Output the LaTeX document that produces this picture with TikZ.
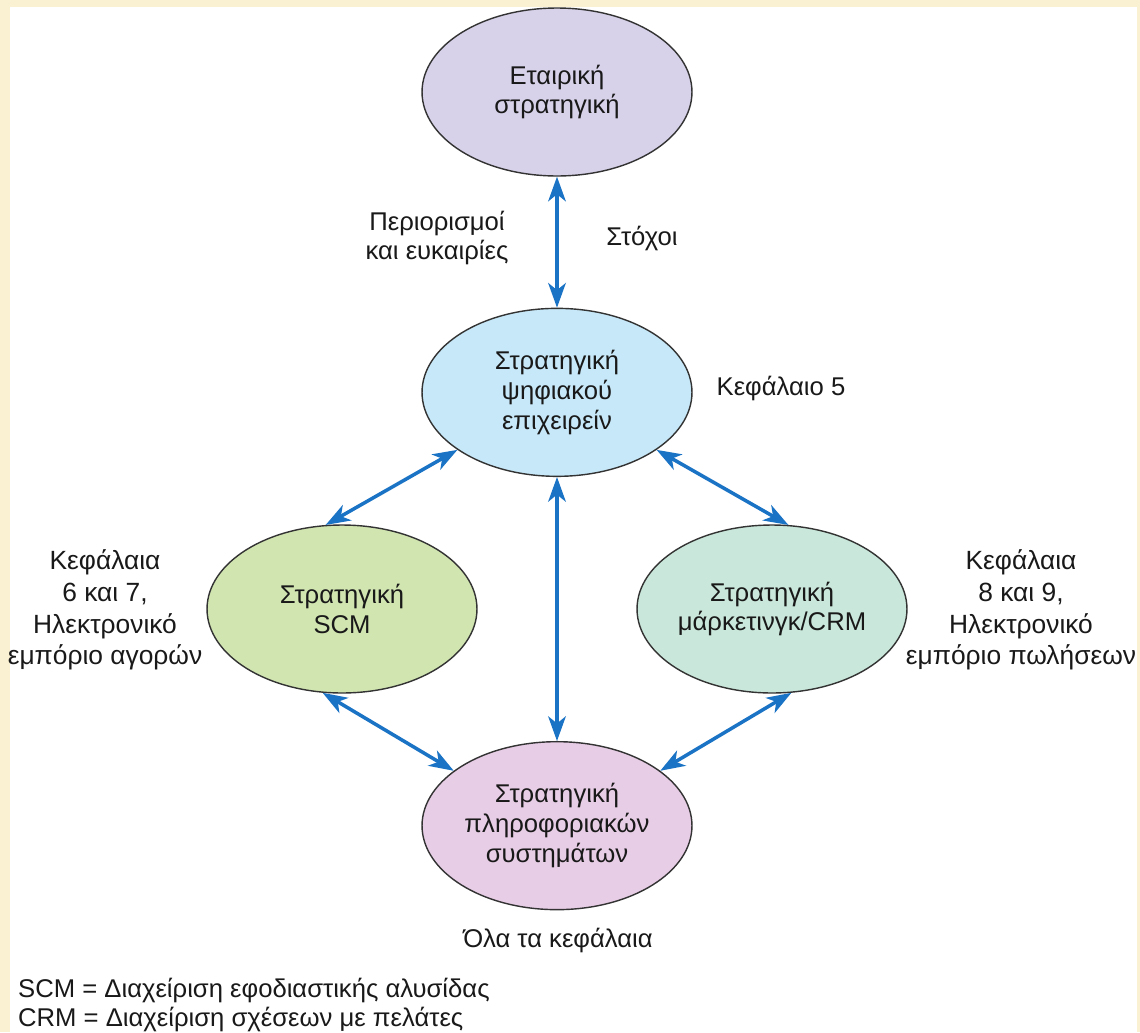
\documentclass[tikz,border=0pt]{standalone}
\usepackage{fontspec}
\setmainfont{Liberation Sans}
\usetikzlibrary{shapes.geometric, arrows.meta, positioning}

\definecolor{framecream}{HTML}{FAF0D2}
\definecolor{arrowblue}{HTML}{1A73C4}
\definecolor{corpfill}{HTML}{D7D1E9}
\definecolor{digfill}{HTML}{C7E8F8}
\definecolor{scmfill}{HTML}{D1E5B1}
\definecolor{crmfill}{HTML}{C9E7DA}
\definecolor{isfill}{HTML}{E7CDE5}

\tikzset{
  strat/.style={ellipse, draw=black!80, line width=0.8pt, minimum width=5.4cm,
    minimum height=3.36cm, inner sep=0pt, align=center, text=black!90},
  link/.style={draw=arrowblue, line width=2pt,
    {Stealth[length=14pt,width=10pt,inset=4pt]}-{Stealth[length=14pt,width=10pt,inset=4pt]}},
  note/.style={align=center, text=black!90},
  sidenote/.style={note, font=\fontsize{15pt}{18pt}\selectfont},
}

\begin{document}
\begin{tikzpicture}[x=0.02cm, y=-0.02cm, font=\fontsize{14.6pt}{17pt}\selectfont]
    % frame
    \fill[framecream] (0,0) rectangle (1140,1032);
    \fill[white] (10,7) rectangle (1137,1032);
    \useasboundingbox (0,0) rectangle (1140,1032);

    \node [strat, fill=corpfill] (corp) at (557,92) {Εταιρική\\στρατηγική};
    \node [strat, fill=digfill, below=2.62cm of corp] (dig) {Στρατηγική\\ψηφιακού\\επιχειρείν};
    \node [strat, fill=scmfill] (scm) at (342,609) {Στρατηγική\\SCM};
    \node [strat, fill=crmfill] (crm) at (772,609) {Στρατηγική\\μάρκετινγκ/CRM};
    \node [strat, fill=isfill, below=5.28cm of dig] (is) {Στρατηγική\\πληροφοριακών\\συστημάτων};

    \node [note] (limits) at (437,238) {Περιορισμοί\\και ευκαιρίες};
    \node [note] (goals) at (642,238) {Στόχοι};
    \node [note] (ch5) at (781,388) {Κεφάλαιο 5};
    \node [sidenote] (chscm) at (105,610) {Κεφάλαια\\6 και 7,\\Ηλεκτρονικό\\εμπόριο αγορών};
    \node [sidenote] (chcrm) at (1021,610) {Κεφάλαια\\8 και 9,\\Ηλεκτρονικό\\εμπόριο πωλήσεων};
    \node [note] (chall) at (558,940) {Όλα τα κεφάλαια};
    \node [note, align=left, anchor=west, font=\fontsize{14.6pt}{16.2pt}\selectfont] (legend) at (12,1005)
        {SCM = Διαχείριση εφοδιαστικής αλυσίδας\\CRM = Διαχείριση σχέσεων με πελάτες};

    \draw[link] (corp) -- (dig);
    \draw[link] (dig) -- (is);
    \draw[link] (dig.210) -- (scm.101);
    \draw[link] (dig.330) -- (crm.79);
    \draw[link] (scm.257) -- (is.152);
    \draw[link] (crm.283) -- (is.28);
\end{tikzpicture}
\end{document}
